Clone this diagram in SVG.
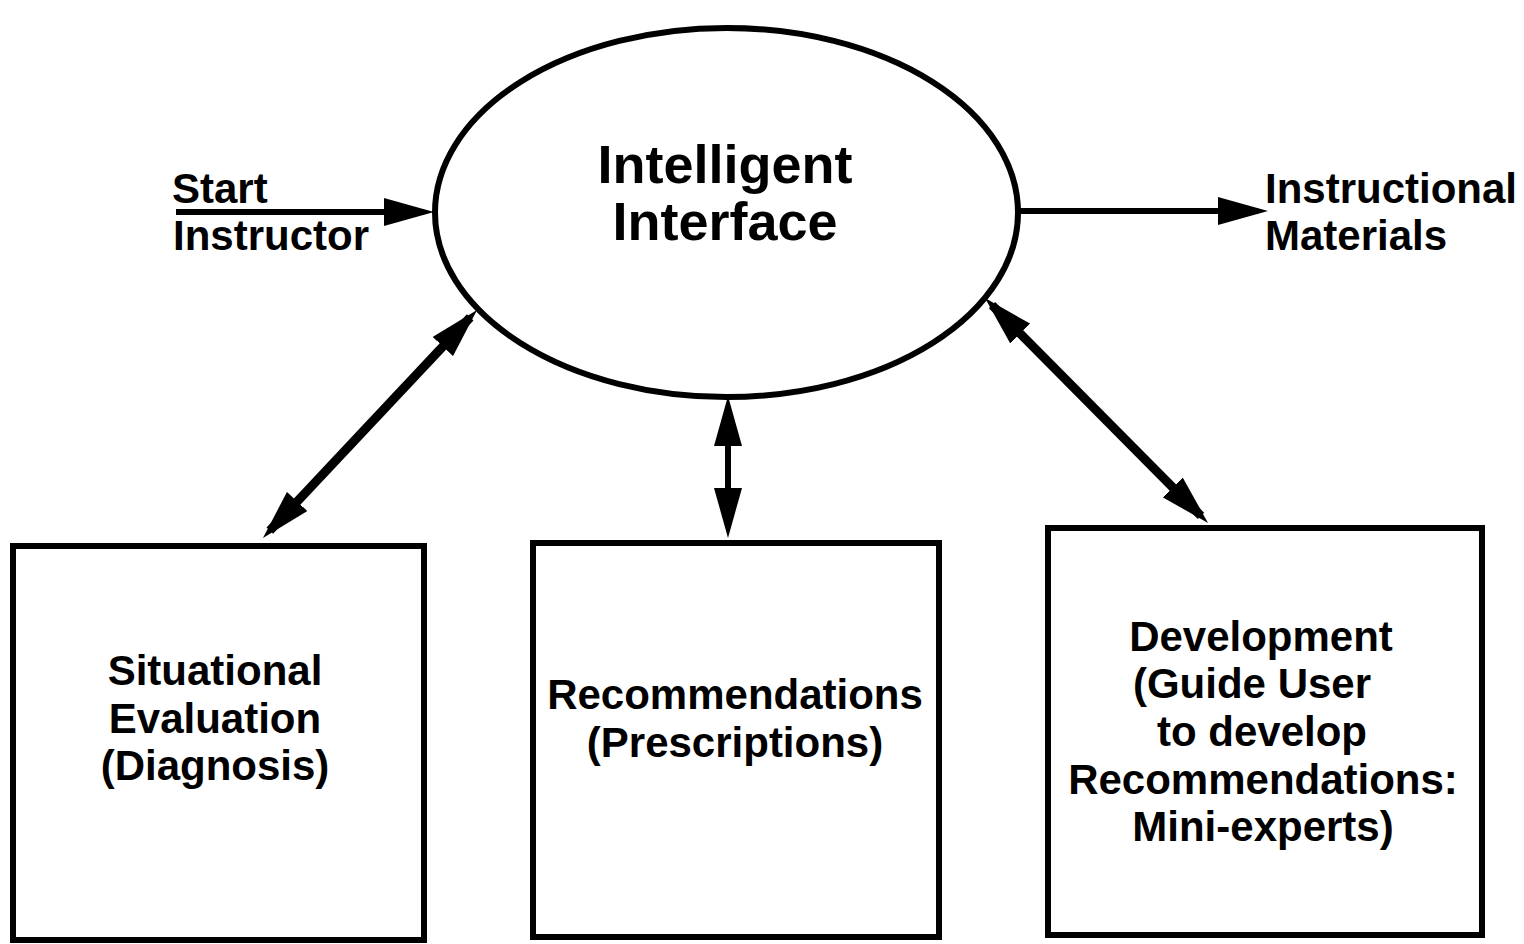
<svg xmlns="http://www.w3.org/2000/svg" width="1524" height="944" viewBox="0 0 1524 944">
  <style>
    .node { fill: #fff; stroke: #000; stroke-width: 6; }
    .lbl { font-family: "Liberation Sans", Arial, Helvetica, sans-serif; font-weight: bold; fill: #000; }
    .big { font-size: 54px; text-anchor: middle; }
    .mid { font-size: 42px; text-anchor: middle; }
    .side { font-size: 42px; }
    .thin { stroke: #000; stroke-width: 6; fill: none; }
    .thick { stroke: #000; stroke-width: 9; fill: none; }
  </style>
  <defs>
    <!-- filled arrowhead; the tip sits 10px past the line end so the shaft stays inside it -->
    <marker id="head" viewBox="0 0 50 28" markerUnits="userSpaceOnUse" markerWidth="50" markerHeight="28" refX="40" refY="14" orient="auto-start-reverse">
      <path d="M0,0 L50,14 L0,28 z" fill="#000"/>
    </marker>
  </defs>
  <rect width="1524" height="944" fill="#fff"/>

  <g id="connectors">
    <line class="thin" x1="176" y1="212" x2="424" y2="212" marker-end="url(#head)"/>
    <line class="thin" x1="1018" y1="211" x2="1258" y2="211" marker-end="url(#head)"/>
    <line class="thick" x1="470.2" y1="317.3" x2="269.8" y2="530.7" marker-start="url(#head)" marker-end="url(#head)"/>
    <line class="thin" x1="728" y1="406" x2="728" y2="528" stroke-width="7" marker-start="url(#head)" marker-end="url(#head)"/>
    <line class="thick" x1="992" y1="305.1" x2="1201" y2="515.9" marker-start="url(#head)" marker-end="url(#head)"/>
  </g>

  <g id="interface">
    <ellipse class="node" cx="726.5" cy="212.5" rx="291.5" ry="184.5"/>
    <text class="lbl big" x="725" y="183">Intelligent</text>
    <text class="lbl big" x="725" y="240">Interface</text>
  </g>

  <g id="start">
    <text class="lbl side" x="172" y="203">Start</text>
    <text class="lbl side" x="173" y="250">Instructor</text>
  </g>

  <g id="materials">
    <text class="lbl side" x="1265" y="203">Instructional</text>
    <text class="lbl side" x="1265" y="250">Materials</text>
  </g>

  <g id="evaluation">
    <rect class="node" x="13" y="546" width="411" height="394"/>
    <text class="lbl mid" x="215" y="685">Situational</text>
    <text class="lbl mid" x="215" y="733">Evaluation</text>
    <text class="lbl mid" x="215" y="780">(Diagnosis)</text>
  </g>

  <g id="recommendations">
    <rect class="node" x="533" y="543" width="406" height="394"/>
    <text class="lbl mid" x="735" y="709">Recommendations</text>
    <text class="lbl mid" x="735" y="757">(Prescriptions)</text>
  </g>

  <g id="development">
    <rect class="node" x="1048" y="528" width="434" height="407"/>
    <text class="lbl mid" x="1261" y="651">Development</text>
    <text class="lbl mid" x="1252" y="698">(Guide User</text>
    <text class="lbl mid" x="1262" y="746">to develop</text>
    <text class="lbl mid" x="1263" y="794">Recommendations:</text>
    <text class="lbl mid" x="1263" y="841">Mini-experts)</text>
  </g>
</svg>
